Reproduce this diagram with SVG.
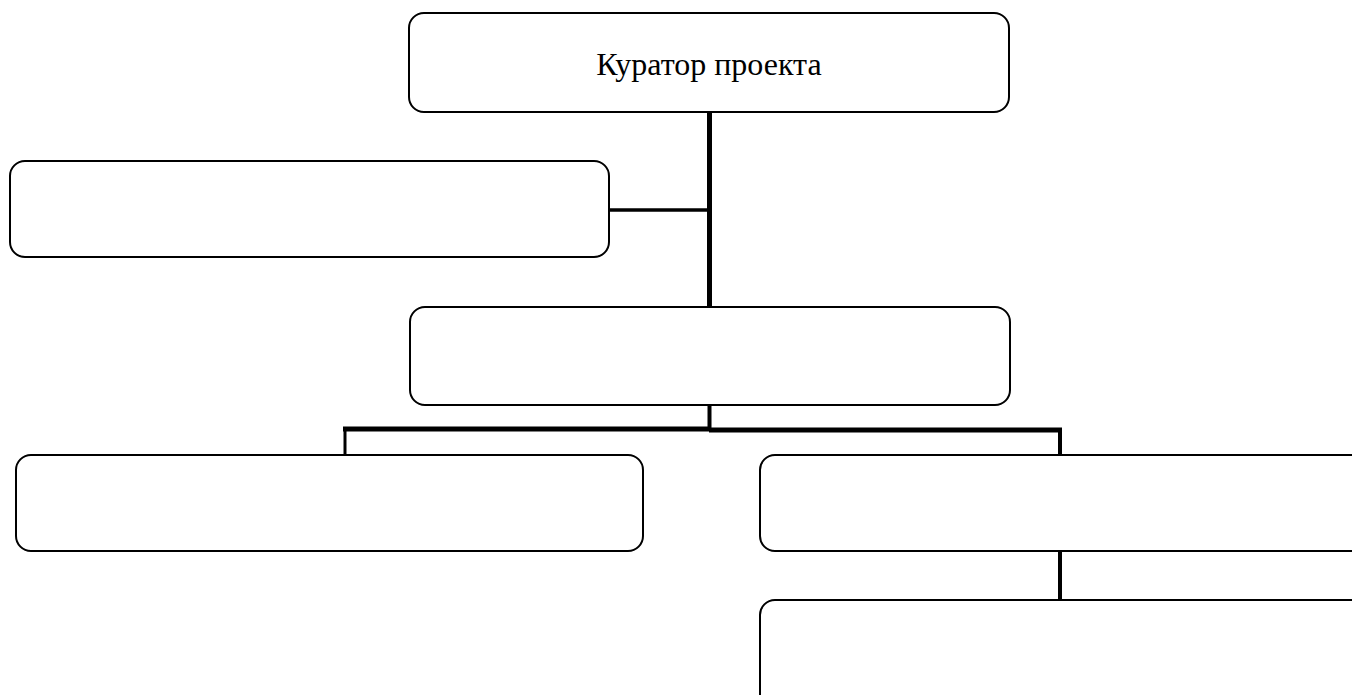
<svg xmlns="http://www.w3.org/2000/svg" width="1352" height="695" viewBox="0 0 1352 695">
<style>
.box{fill:#fff;stroke:#000;stroke-width:2}
.con{stroke:#000;fill:none;stroke-linecap:butt}
.lbl{font-family:"Liberation Serif","Times New Roman",serif;font-size:32px;fill:#000}
</style>
<rect width="1352" height="695" fill="#fff"/>
<g id="connectors">
<line class="con" x1="709.5" y1="111" x2="709.5" y2="307" stroke-width="5"/>
<line class="con" x1="608" y1="210" x2="709" y2="210" stroke-width="3.5"/>
<line class="con" x1="709.5" y1="405" x2="709.5" y2="430" stroke-width="4"/>
<line class="con" x1="343" y1="429" x2="710" y2="429" stroke-width="5"/>
<line class="con" x1="709" y1="430" x2="1062" y2="430" stroke-width="5"/>
<line class="con" x1="345" y1="428" x2="345" y2="455" stroke-width="3"/>
<line class="con" x1="1060" y1="428" x2="1060" y2="455" stroke-width="4"/>
<line class="con" x1="1060" y1="551" x2="1060" y2="600" stroke-width="4"/>
</g>
<g id="node-curator">
<rect class="box" x="409" y="13" width="600" height="99" rx="15"/>
<text class="lbl" x="709" y="75" text-anchor="middle">Куратор проекта</text>
</g>
<g id="node-left">
<rect class="box" x="10" y="161" width="599" height="96" rx="15"/>
</g>
<g id="node-middle">
<rect class="box" x="410" y="307" width="600" height="98" rx="15"/>
</g>
<g id="node-bottom-left">
<rect class="box" x="16" y="455" width="627" height="96" rx="15"/>
</g>
<g id="node-bottom-right">
<rect class="box" x="760" y="455" width="610" height="96" rx="15"/>
</g>
<g id="node-lowest">
<rect class="box" x="760" y="600" width="610" height="110" rx="15"/>
</g>
</svg>
